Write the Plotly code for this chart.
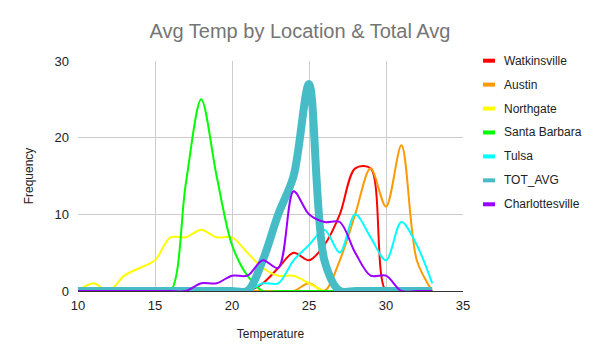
import plotly.graph_objects as go

temps = list(range(10, 34))

watkinsville = [0, 0, 0, 0, 0, 0, 0, 0, 0, 0, 0, 0, 1, 3, 5, 4, 6, 10, 16, 16, 0, 0, 0, 0]
austin =       [0, 0, 0, 0, 0, 0, 0, 0, 0, 0, 0, 0, 0, 0, 0, 1, 0, 4, 10, 16, 11, 19, 4, 0]
northgate =    [0, 1, 0, 2, 3, 4, 7, 7, 8, 7, 7, 5, 3, 2, 2, 1, 0, 0, 0, 0, 0, 0, 0, 0]
santa_barbara = [0, 0, 0, 0, 0, 0, 0, 14, 25, 15, 6, 2, 0, 0, 0, 0, 0, 0, 0, 0, 0, 0, 0, 0]
tulsa =        [0, 0, 0, 0, 0, 0, 0, 0, 0, 0, 0, 0, 1, 1, 4, 6, 8, 5, 10, 7, 4, 9, 6, 1]
tot_avg =      [0, 0, 0, 0, 0, 0, 0, 0, 0, 0, 0, 0, 4, 10, 15, 27, 4, 0, 0, 0, 0, 0, 0, 0]
charlottesville = [0, 0, 0, 0, 0, 0, 0, 0, 1, 1, 2, 2, 4, 3, 13, 10, 9, 9, 5, 2, 2, 0, 0, 0]

series_names = ["Watkinsville", "Austin", "Northgate", "Santa Barbara", "Tulsa", "TOT_AVG", "Charlottesville"]
series_values = [watkinsville, austin, northgate, santa_barbara, tulsa, tot_avg, charlottesville]
series_colors = ["#ff0000", "#ff9900", "#ffff00", "#00ff00", "#00ffff", "#46bdc6", "#9900ff"]
series_widths = [2, 2, 2, 2, 2, 8, 2]

x_ticks = [10, 15, 20, 25, 30, 35]
y_ticks = [0, 10, 20, 30]

fig = go.Figure()
for name, vals, col, w in zip(series_names, series_values, series_colors, series_widths):
    fig.add_trace(go.Scatter(x=temps, y=vals, mode="lines", name=name,
                             line=dict(color=col, width=w, shape="spline", smoothing=0.9),
                             showlegend=False, hoverinfo="skip"))

# plot area in pixels
L, R, T, B = 78, 463, 61, 291
W, H = 600, 362

# custom legend
leg_y0, leg_dy = 60.7, 23.93
for i, (name, col) in enumerate(zip(series_names, series_colors)):
    py = leg_y0 + i * leg_dy
    yp = (B - py) / (B - T)
    fig.add_shape(type="line", xref="paper", yref="paper",
                  x0=(483 - L) / (R - L), x1=(495 - L) / (R - L), y0=yp, y1=yp,
                  line=dict(color=col, width=4))
    fig.add_annotation(xref="paper", yref="paper", x=(502 - L) / (R - L), y=yp,
                       text=name, showarrow=False, xanchor="left", yanchor="middle",
                       font=dict(family="Liberation Sans, Arial, sans-serif", size=12, color="#222222"))

fig.update_layout(
    width=W, height=H,
    margin=dict(l=L, r=W - R, t=T, b=H - B, pad=0, autoexpand=False),
    paper_bgcolor="white", plot_bgcolor="white",
    title=dict(text="Avg Temp by Location & Total Avg", x=0.5, xanchor="center",
               y=1 - 31 / H, yanchor="middle",
               font=dict(family="Liberation Sans, Arial, sans-serif", size=20, color="#757575")),
    font=dict(family="Liberation Sans, Arial, sans-serif", size=13, color="#222222"),
    xaxis=dict(range=[10, 35], tickvals=x_ticks, ticktext=[str(v) for v in x_ticks],
               showgrid=True, gridcolor="#cccccc", gridwidth=1, zeroline=False,
               showline=True, linecolor="#333333", linewidth=1, mirror=False,
               ticks="", ticklabelstandoff=2, automargin=False,
               title=dict(text="Temperature", standoff=18,
                          font=dict(size=12, color="#222222"))),
    yaxis=dict(range=[0, 30], tickvals=y_ticks, ticktext=[str(v) for v in y_ticks],
               showgrid=True, gridcolor="#cccccc", gridwidth=1, zeroline=False,
               showline=False, ticks="", ticklabelstandoff=8, automargin=False,
               title=dict(text="Frequency", standoff=18,
                          font=dict(size=12, color="#222222"))),
)

fig.write_html("out.html", config={"displayModeBar": False},
               post_script="document.body.style.margin='0';document.body.style.overflow='hidden';")
